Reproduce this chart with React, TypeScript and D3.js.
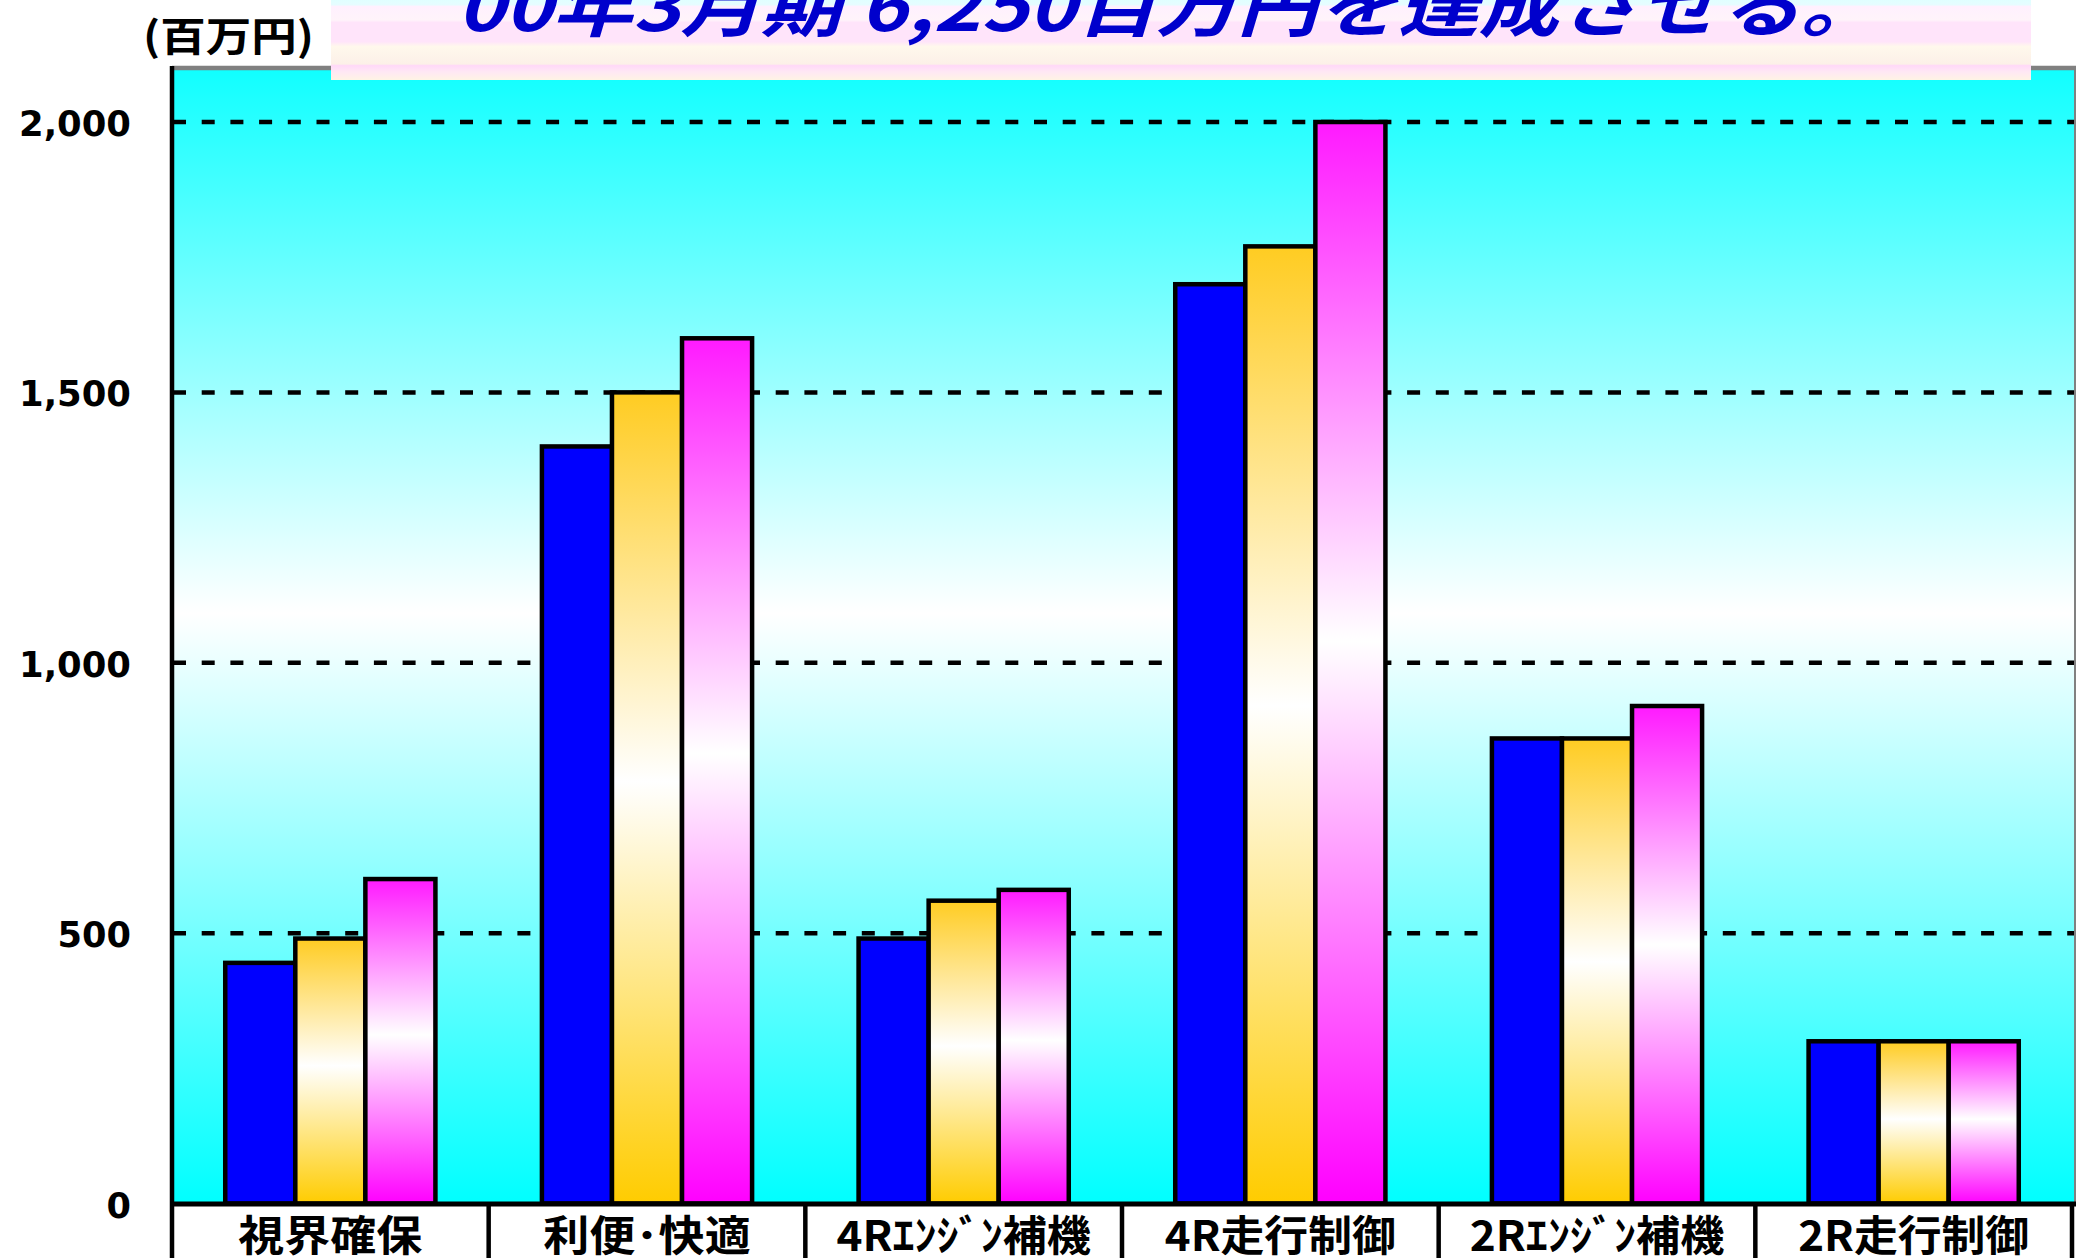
import * as d3 from 'd3';
import React from 'react';

// sales by product area (百万円)
const categories = ['視界確保', '利便･快適', '4Rｴﾝｼﾞﾝ補機', '4R走行制御', '2Rｴﾝｼﾞﾝ補機', '2R走行制御'];
const seriesNames = ['98年3月期', '99年3月期', '00年3月期'];
const series98 = [445, 1400, 490, 1700, 860, 300];
const series99 = [490, 1500, 560, 1770, 860, 300];
const series00 = [600, 1600, 580, 2000, 920, 300];
const yTicks = [0, 500, 1000, 1500, 2000];
const titleText = '00年3月期 6,250百万円を達成させる。';
const unitText = '(百万円)';

const W = 2076;
const H = 1258;
const plotLeft = 172;
const plotRight = 2074;
const plotTop = 68;
const zeroY = 1203.5;

const JP = '"Noto Sans CJK JP", "DejaVu Sans", sans-serif';

// width of a string in "em" units, half-width glyphs count as 0.5
const ems = (s: string) =>
  Array.from(s).reduce((a, ch) => {
    const c = ch.charCodeAt(0);
    const half = c < 0x3000 || (c >= 0xff61 && c <= 0xff9f);
    return a + (half ? 0.5 : 1);
  }, 0);

export default function App() {
  const values = [series98, series99, series00];

  const x0 = d3.scaleBand<string>().domain(categories).range([plotLeft, 2072]).padding(0);
  const x1 = d3
    .scaleBand<string>()
    .domain(seriesNames)
    .range([0, x0.bandwidth()])
    .paddingInner(0)
    .paddingOuter(0.76);
  const y = d3.scaleLinear().domain([0, 2000]).range([zeroY, 122]);

  const fills = ['#0000FF', 'url(#gradYellow)', 'url(#gradPink)'];

  const separators = categories
    .map((c) => x0(c)!)
    .slice(1)
    .concat([x0(categories[categories.length - 1])! + x0.bandwidth()]);

  return (
    <svg
      width={W}
      height={H}
      style={{ position: 'absolute', left: 0, top: 0, background: '#ffffff' }}
    >
      <defs>
        <linearGradient id="plotBg" x1="0" y1="0" x2="0" y2="1">
          <stop offset="0%" stopColor="#10FFFF" />
          <stop offset="48%" stopColor="#FFFFFF" />
          <stop offset="100%" stopColor="#00FFFF" />
        </linearGradient>
        <linearGradient id="gradYellow" x1="0" y1="0" x2="0" y2="1">
          <stop offset="0%" stopColor="#FFCC22" />
          <stop offset="48%" stopColor="#FFFFFF" />
          <stop offset="100%" stopColor="#FFCC00" />
        </linearGradient>
        <linearGradient id="gradPink" x1="0" y1="0" x2="0" y2="1">
          <stop offset="0%" stopColor="#FF1AFF" />
          <stop offset="48%" stopColor="#FFFFFF" />
          <stop offset="100%" stopColor="#FF00FF" />
        </linearGradient>
        <linearGradient id="banner" x1="0" y1="0" x2="0" y2="1">
          <stop offset="0%" stopColor="#E0FFFF" />
          <stop offset="6%" stopColor="#E6FCFF" />
          <stop offset="8%" stopColor="#FFF0FE" />
          <stop offset="25%" stopColor="#FFF4FA" />
          <stop offset="28%" stopColor="#FFE4FA" />
          <stop offset="52%" stopColor="#FFE4FA" />
          <stop offset="58%" stopColor="#FFF8EC" />
          <stop offset="80%" stopColor="#FCF0E8" />
          <stop offset="82%" stopColor="#FFD8F8" />
          <stop offset="90%" stopColor="#FFE8F4" />
          <stop offset="100%" stopColor="#FFF4E4" />
        </linearGradient>
      </defs>

      {/* plot background */}
      <rect x={plotLeft} y={plotTop} width={plotRight - plotLeft} height={zeroY - plotTop} fill="url(#plotBg)" />
      <line x1={plotLeft} x2={W} y1={plotTop} y2={plotTop} stroke="#808080" strokeWidth={4.5} />
      <line x1={2075} x2={2075} y1={plotTop} y2={zeroY} stroke="#808080" strokeWidth={2} />

      {/* grid */}
      {yTicks.slice(1).map((t) => (
        <line
          key={t}
          x1={plotLeft + 1}
          x2={plotRight}
          y1={y(t)}
          y2={y(t)}
          stroke="#000"
          strokeWidth={4.5}
          strokeDasharray="13 15.7"
        />
      ))}

      {/* bars */}
      {categories.map((c, ci) => (
        <g key={c} transform={`translate(${x0(c)},0)`}>
          {seriesNames.map((s, si) => {
            const v = values[si][ci];
            return (
              <rect
                key={s}
                x={x1(s)}
                y={y(v)}
                width={x1.bandwidth()}
                height={zeroY - y(v)}
                fill={fills[si]}
                stroke="#000"
                strokeWidth={4.5}
              />
            );
          })}
        </g>
      ))}

      {/* axes */}
      <line x1={plotLeft} x2={W} y1={zeroY + 0.5} y2={zeroY + 0.5} stroke="#000" strokeWidth={5} />
      <line x1={plotLeft} x2={plotLeft} y1={66} y2={H} stroke="#000" strokeWidth={4.5} />
      {separators.map((sx, i) => (
        <line key={i} x1={sx} x2={sx} y1={zeroY} y2={H} stroke="#000" strokeWidth={4.5} />
      ))}

      {/* y tick labels */}
      {yTicks.map((t) => {
        const label = d3.format(',')(t);
        const len = Array.from(label).reduce((a, ch) => a + (ch === ',' ? 14 : 24.5), 0);
        return (
          <text
            key={t}
            x={131}
            y={y(t) + 14}
            textAnchor="end"
            fontFamily='"DejaVu Sans", sans-serif'
            fontWeight="bold"
            fontSize={35}
            textLength={len}
            lengthAdjust="spacingAndGlyphs"
            fill="#000"
          >
            {label}
          </text>
        );
      })}

      {/* category labels */}
      {categories.map((c) => (
        <text
          key={c}
          x={x0(c)! + x0.bandwidth() / 2}
          y={1251}
          textAnchor="middle"
          fontFamily={JP}
          fontWeight="bold"
          fontSize={42}
          textLength={ems(c) * 47 - 4}
          lengthAdjust="spacingAndGlyphs"
          fill="#000"
        >
          {c}
        </text>
      ))}

      {/* unit */}
      <text
        x={143}
        y={51}
        fontFamily={JP}
        fontWeight="bold"
        fontSize={40}
        textLength={171}
        lengthAdjust="spacingAndGlyphs"
        fill="#000"
      >
        {unitText}
      </text>

      {/* title banner */}
      <rect x={331} y={0} width={1700} height={80} fill="url(#banner)" />
      <text
        x={457}
        y={31}
        fontFamily={JP}
        fontWeight="bold"
        fontStyle="italic"
        fontSize={68}
        textLength={1424}
        lengthAdjust="spacingAndGlyphs"
        fill="#0000CC"
      >
        {titleText}
      </text>
    </svg>
  );
}
